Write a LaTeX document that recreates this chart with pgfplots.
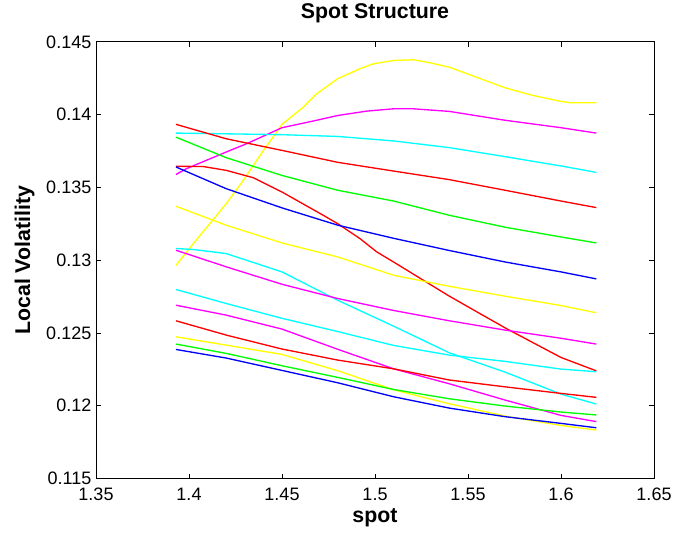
\documentclass[border=0pt]{standalone}
\usepackage{pgfplots}
\pgfplotsset{compat=1.18}
\usepackage{fontspec}
\setmainfont{Liberation Sans}
\definecolor{mred}{RGB}{255,0,0}
\definecolor{mgreen}{RGB}{0,255,0}
\definecolor{mblue}{RGB}{0,0,255}
\definecolor{mcyan}{RGB}{0,255,255}
\definecolor{mmagenta}{RGB}{255,0,255}
\definecolor{myellow}{RGB}{255,255,0}
\begin{document}
\begin{tikzpicture}
\begin{axis}[
  scale only axis, width=418.5pt, height=327.4pt,
  xmin=1.35, xmax=1.65, ymin=0.115, ymax=0.145,
  xtick={1.35,1.4,1.45,1.5,1.55,1.6,1.65},
  xticklabels={1.35,1.4,1.45,1.5,1.55,1.6,1.65},
  ytick={0.115,0.12,0.125,0.13,0.135,0.14,0.145},
  yticklabels={0.115,0.12,0.125,0.13,0.135,0.14,0.145},
  scaled ticks=false,
  tick align=inside, major tick length=3.75pt,
  axis line style={line width=0.75pt},
  every tick/.style={black, line width=0.75pt},
  tick label style={font=\fontsize{13.5}{16}\selectfont},
  xticklabel style={yshift=-3.5pt},
  title={Spot Structure},
  title style={font=\bfseries\fontsize{16}{19}\selectfont, at={(axis description cs:0.5,1.0363)}, anchor=base},
  xlabel={spot},
  xlabel style={font=\bfseries\fontsize{16}{19}\selectfont, at={(axis description cs:0.5,-0.1014)}, anchor=base},
  ylabel={Local Volatility},
  ylabel style={font=\bfseries\fontsize{16}{19}\selectfont, at={(axis description cs:-0.1180,0.5)}, rotate=0, anchor=base},
  every axis plot/.append style={line width=1pt, no marks},
]
% yellow top
\addplot[myellow] coordinates {(1.3930,0.12965)(1.4023,0.13114)(1.4200,0.13389)(1.4292,0.13549)(1.4382,0.13721)(1.4500,0.13934)(1.4615,0.14053)(1.4686,0.14144)(1.4800,0.14248)(1.4919,0.14316)(1.4991,0.14350)(1.5100,0.14373)(1.5206,0.14378)(1.5278,0.14362)(1.5400,0.14327)(1.5546,0.14258)(1.5700,0.14185)(1.5851,0.14132)(1.6000,0.14092)(1.6048,0.14083)(1.6190,0.14083)};
% magenta top
\addplot[mmagenta] coordinates {(1.393,0.13590)(1.39875,0.13630)(1.42,0.13744)(1.431,0.13801)(1.45,0.13911)(1.4668,0.13957)(1.48,0.13995)(1.4955,0.14025)(1.51,0.14041)(1.5206,0.14041)(1.54,0.14023)(1.57,0.13962)(1.60,0.13911)(1.619,0.13874)};
% cyan top
\addplot[mcyan] coordinates {(1.393,0.13874)(1.42,0.13869)(1.45,0.13863)(1.48,0.13851)(1.51,0.13820)(1.54,0.13774)(1.57,0.13712)(1.60,0.13648)(1.619,0.13604)};
% red top
\addplot[mred] coordinates {(1.393,0.13934)(1.42,0.13835)(1.45,0.13755)(1.48,0.13673)(1.51,0.13613)(1.54,0.13554)(1.57,0.13481)(1.60,0.13407)(1.619,0.13362)};
% green top
\addplot[mgreen] coordinates {(1.393,0.13846)(1.42,0.13705)(1.45,0.13583)(1.48,0.13481)(1.51,0.13407)(1.54,0.13309)(1.57,0.13227)(1.60,0.13160)(1.619,0.13119)};
% red steep
\addplot[mred] coordinates {(1.393,0.13646)(1.4077,0.13644)(1.42,0.13618)(1.4346,0.13567)(1.45,0.13469)(1.4722,0.13309)(1.48,0.13251)(1.4919,0.13149)(1.5009,0.13058)(1.51,0.12988)(1.54,0.12753)(1.57,0.12535)(1.60,0.12332)(1.619,0.12240)};
% blue top
\addplot[mblue] coordinates {(1.393,0.13641)(1.42,0.13492)(1.45,0.13360)(1.48,0.13241)(1.51,0.13151)(1.54,0.13067)(1.57,0.12988)(1.60,0.12920)(1.619,0.12872)};
% yellow 2
\addplot[myellow] coordinates {(1.393,0.13371)(1.42,0.13241)(1.45,0.13119)(1.48,0.13023)(1.51,0.12897)(1.54,0.12821)(1.57,0.12753)(1.60,0.12689)(1.619,0.12639)};
% cyan steep
\addplot[mcyan] coordinates {(1.393,0.13081)(1.4023,0.13074)(1.42,0.13046)(1.45,0.12920)(1.48,0.12725)(1.51,0.12547)(1.54,0.12364)(1.57,0.12231)(1.60,0.12080)(1.619,0.12012)};
% magenta mid
\addplot[mmagenta] coordinates {(1.393,0.13069)(1.42,0.12955)(1.45,0.12835)(1.48,0.12737)(1.51,0.12655)(1.54,0.12584)(1.57,0.12520)(1.60,0.12464)(1.619,0.12424)};
% cyan mid
\addplot[mcyan] coordinates {(1.393,0.12799)(1.42,0.12703)(1.45,0.12601)(1.48,0.12510)(1.51,0.12415)(1.54,0.12348)(1.57,0.12305)(1.60,0.12252)(1.619,0.12234)};
% magenta low
\addplot[mmagenta] coordinates {(1.393,0.12691)(1.42,0.12623)(1.45,0.12527)(1.48,0.12388)(1.51,0.12254)(1.54,0.12151)(1.57,0.12039)(1.60,0.11934)(1.619,0.11891)};
% red low
\addplot[mred] coordinates {(1.393,0.12584)(1.42,0.12486)(1.45,0.12390)(1.48,0.12314)(1.51,0.12254)(1.54,0.12177)(1.57,0.12130)(1.60,0.12085)(1.619,0.12058)};
% yellow low
\addplot[myellow] coordinates {(1.393,0.12474)(1.42,0.12417)(1.45,0.12353)(1.48,0.12241)(1.51,0.12110)(1.54,0.12014)(1.57,0.11929)(1.60,0.11865)(1.619,0.11833)};
% green low
\addplot[mgreen] coordinates {(1.393,0.12424)(1.42,0.12360)(1.45,0.12275)(1.48,0.12195)(1.51,0.12112)(1.54,0.12048)(1.57,0.11998)(1.60,0.11957)(1.619,0.11937)};
% blue low
\addplot[mblue] coordinates {(1.393,0.12387)(1.42,0.12328)(1.45,0.12243)(1.48,0.12158)(1.51,0.12062)(1.54,0.11984)(1.57,0.11925)(1.60,0.11879)(1.619,0.11849)};
\end{axis}
\pgfresetboundingbox
\path ([shift={(-72pt,-42.4pt)}]current axis.south west) rectangle ([shift={(14.25pt,31.5pt)}]current axis.north east);
\end{tikzpicture}
\end{document}
